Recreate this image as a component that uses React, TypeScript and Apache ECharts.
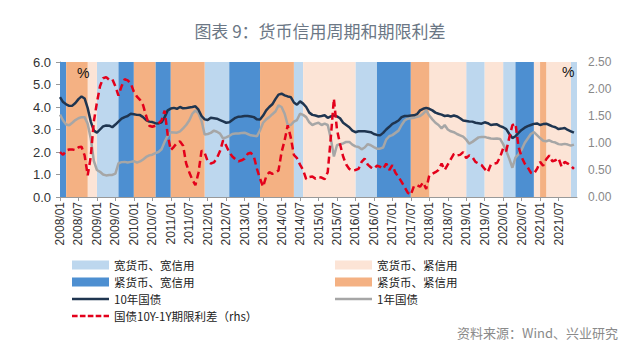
import React, { useEffect, useRef } from "react";
import * as echarts from "echarts";

// Monthly data, 2008/01 – 2021/12
const startYear = 2008;
const monthCount = 168;

const tenYear = [
  4.44, 4.22, 4.12, 4.05, 4.06, 4.18, 4.35, 4.47, 4.38, 3.95, 3.35, 2.95,
  2.86, 3.0, 3.14, 3.18, 3.17, 3.1, 3.22, 3.35, 3.48, 3.55, 3.6, 3.7,
  3.68, 3.65, 3.64, 3.55, 3.42, 3.35, 3.33, 3.28, 3.27, 3.32, 3.55, 3.85,
  3.93, 3.96, 3.92, 4.0, 3.94, 3.95, 3.98, 4.0, 4.03, 3.88, 3.6, 3.45,
  3.42, 3.52, 3.5, 3.48, 3.42, 3.36, 3.3, 3.32, 3.42, 3.52, 3.57, 3.58,
  3.6, 3.6, 3.58, 3.55, 3.45, 3.44, 3.62, 3.85, 4.0, 4.12, 4.35, 4.55,
  4.59, 4.52, 4.47, 4.44, 4.2, 4.1, 4.25, 4.15, 4.0, 3.75, 3.65, 3.62,
  3.58, 3.6, 3.63, 3.52, 3.58, 3.63, 3.58, 3.5, 3.3, 3.2, 3.1, 2.95,
  2.88, 2.92, 2.92, 2.92, 2.9, 2.88, 2.8, 2.76, 2.74, 2.85, 3.0, 3.12,
  3.25, 3.32, 3.4, 3.55, 3.6, 3.6, 3.62, 3.63, 3.68, 3.85, 3.92, 3.96,
  3.92, 3.85, 3.75, 3.7, 3.66, 3.6, 3.62, 3.58, 3.62, 3.58, 3.5, 3.4,
  3.38, 3.36, 3.35, 3.3, 3.28, 3.26, 3.32, 3.28, 3.2, 3.22, 3.23, 3.15,
  3.1, 3.02, 2.8, 2.62, 2.7, 2.85, 2.98, 3.08, 3.15, 3.2, 3.25, 3.27,
  3.2, 3.24, 3.26, 3.2, 3.14, 3.1, 3.02, 3.04, 3.07, 2.98, 2.92, 2.86,
];

const oneYear = [
  3.66, 3.4, 3.22, 3.19, 3.3, 3.42, 3.5, 3.55, 3.55, 3.25, 2.6, 1.6,
  1.2, 1.12, 1.0, 0.96, 0.98, 0.98, 1.04, 1.5, 1.55, 1.56, 1.53, 1.56,
  1.59, 1.53, 1.58, 1.67, 1.78, 1.85, 1.88, 1.95, 2.0, 2.12, 2.45, 2.72,
  2.88, 2.87, 2.86, 2.92, 3.05, 3.2, 3.4, 3.7, 3.85, 3.72, 3.38, 2.78,
  2.8, 2.85, 2.95, 2.9, 2.82, 2.6, 2.65, 2.72, 2.8, 2.82, 2.82, 2.84,
  2.86, 2.8, 2.74, 2.72, 2.7, 2.96, 3.3, 3.45, 3.55, 3.68, 3.8, 4.07,
  4.0, 3.7, 3.2, 3.2, 3.35, 3.42, 3.7, 3.65, 3.55, 3.32, 3.2, 3.26,
  3.3, 3.2, 3.26, 3.2, 2.6, 1.8, 2.3, 2.35, 2.38, 2.45, 2.45, 2.33,
  2.25, 2.22, 2.12, 2.2, 2.35, 2.3, 2.22, 2.15, 2.15, 2.2, 2.55, 2.7,
  2.75, 2.85, 2.95, 3.2, 3.4, 3.48, 3.5, 3.52, 3.56, 3.6, 3.7, 3.85,
  3.62, 3.45, 3.3, 3.2, 3.05, 3.2, 3.0, 2.92, 2.88, 2.8, 2.74, 2.68,
  2.55, 2.37, 2.45, 2.55, 2.65, 2.67, 2.67, 2.63, 2.6, 2.59, 2.6, 2.58,
  2.35, 2.05, 1.7, 1.3, 1.75, 1.9, 2.1, 2.4, 2.6, 2.8, 2.88, 2.75,
  2.62, 2.5, 2.48, 2.52, 2.45, 2.42, 2.35, 2.33, 2.36, 2.33, 2.28, 2.33,
];

const termSpread = [
  0.83, 0.78, 0.86, 0.88, 0.88, 0.87, 0.92, 0.93, 0.77, 0.4, 0.75, 1.4,
  1.75, 2.05, 2.2, 2.22, 2.17, 2.18, 2.05, 1.88, 2.05, 2.18, 2.16, 2.1,
  1.95, 1.86, 1.8, 1.7, 1.5, 1.32, 1.3, 1.32, 1.36, 1.42, 1.6, 1.15,
  0.87, 0.93, 1.0, 1.03, 0.95, 0.62, 0.46, 0.32, 0.22, 0.45, 0.86, 0.82,
  0.66, 0.62, 0.64, 0.72, 0.85, 1.05, 0.95, 0.83, 0.75, 0.7, 0.66, 0.68,
  0.71, 0.8, 0.82, 0.75, 0.52, 0.34, 0.19, 0.38, 0.46, 0.43, 0.46, 0.49,
  0.83, 1.05, 1.33, 1.1, 0.78, 0.72, 0.6, 0.5, 0.33, 0.37, 0.38, 0.34,
  0.37, 0.36, 0.33, 0.46, 1.1, 1.82, 1.25, 0.98, 0.75, 0.6, 0.52, 0.49,
  0.5, 0.52, 0.65, 0.71, 0.6, 0.55, 0.52, 0.58, 0.56, 0.52, 0.62, 0.5,
  0.59, 0.45, 0.37, 0.28, 0.18, 0.08, 0.04, 0.2, 0.22, 0.19, 0.27, 0.15,
  0.4, 0.43, 0.46, 0.5, 0.62, 0.5, 0.6, 0.7, 0.8, 0.77, 0.78, 0.83,
  0.72, 0.77, 0.74, 0.65, 0.62, 0.59, 0.52, 0.46, 0.6, 0.62, 0.63, 0.74,
  0.9, 0.85, 1.1, 1.33, 1.36, 0.93, 0.74, 0.62, 0.55, 0.45, 0.43, 0.52,
  0.65, 0.58, 0.7, 0.77, 0.66, 0.68, 0.72, 0.56, 0.65, 0.62, 0.58, 0.52,
];

// Regime periods [first month, last month] (inclusive)
const looseMoneyLooseCredit = [
  ["2009/01", "2009/07"], ["2011/12", "2012/07"], ["2014/05", "2014/07"],
  ["2016/01", "2016/07"], ["2019/01", "2019/06"], ["2020/01", "2020/04"],
  ["2021/11", "2021/12"],
];
const tightMoneyLooseCredit = [
  ["2008/01", "2008/02"], ["2009/08", "2009/12"], ["2010/08", "2010/12"],
  ["2012/08", "2013/05"], ["2016/08", "2017/06"], ["2020/05", "2020/10"],
];
const looseMoneyTightCredit = [
  ["2008/10", "2008/12"], ["2014/08", "2015/12"], ["2018/01", "2018/12"],
  ["2019/07", "2019/12"], ["2020/11", "2020/12"], ["2021/03", "2021/10"],
];
const tightMoneyTightCredit = [
  ["2008/03", "2008/09"], ["2010/01", "2010/07"], ["2011/01", "2011/11"],
  ["2013/06", "2014/04"], ["2017/07", "2017/12"], ["2021/01", "2021/02"],
];

const leftTicks = { min: 0, max: 6, interval: 1 };
const rightTicks = { min: 0, max: 2.5, interval: 0.5 };

const NAME_LL = "宽货币、宽信用";
const NAME_TL = "紧货币、宽信用";
const NAME_LT = "宽货币、紧信用";
const NAME_TT = "紧货币、紧信用";
const NAME_10Y = "10年国债";
const NAME_1Y = "1年国债";
const NAME_SP = "国债10Y-1Y期限利差（rhs）";

const COLOR_LL = "#bdd7ee";
const COLOR_TL = "#4d8fd1";
const COLOR_LT = "#fce4d6";
const COLOR_TT = "#f4b183";

const SOLID_ICON = "path://M0,0 L37,0 L37,2.6 L0,2.6 Z";
const DASH_ICON =
  "path://M0,0 L5.6,0 L5.6,2.6 L0,2.6 Z M7.9,0 L13.5,0 L13.5,2.6 L7.9,2.6 Z M15.8,0 L21.4,0 L21.4,2.6 L15.8,2.6 Z M23.7,0 L29.3,0 L29.3,2.6 L23.7,2.6 Z M31.6,0 L37,0 L37,2.6 L31.6,2.6 Z";

function monthLabel(i: number) {
  const y = startYear + Math.floor(i / 12);
  const m = (i % 12) + 1;
  return `${y}/${m < 10 ? "0" + m : m}`;
}
function monthIndex(label: string) {
  const [y, m] = label.split("/").map(Number);
  return (y - startYear) * 12 + (m - 1);
}

function bandSeries(name: string, color: string, periods: string[][]) {
  return {
    name,
    type: "line",
    data: [],
    color,
    silent: true,
    z: 1,
    markArea: {
      silent: true,
      z: 1,
      itemStyle: { color, opacity: 1, borderWidth: 0 },
      data: periods.map(([a, b]) => [
        { xAxis: monthIndex(a) },
        { xAxis: monthIndex(b) + 1 },
      ]),
    },
  };
}

export default function App() {
  const ref = useRef<HTMLDivElement>(null);

  useEffect(() => {
    if (!ref.current) return;
    const chart = echarts.init(ref.current, null, { renderer: "svg" });
    const pairs = (arr: number[]) => arr.map((v, i) => [i, v]);
    const legendText = {
      fontFamily: "'Noto Sans CJK SC', sans-serif",
      fontSize: 11.5,
      lineHeight: 14,
      color: "#222",
    };
    const noBorder = { borderWidth: 0 };
    chart.setOption({
      animation: false,
      backgroundColor: "#ffffff",
      title: {
        text: "图表 9：货币信用周期和期限利差",
        left: "center",
        top: 17,
        textStyle: {
          fontFamily: "'Noto Sans CJK SC', sans-serif",
          fontSize: 17,
          fontWeight: "normal",
          color: "#6b7785",
        },
      },
      grid: { left: 60, right: 63, top: 62, bottom: 161, containLabel: false },
      xAxis: {
        type: "value",
        min: 0,
        max: monthCount,
        interval: 6,
        axisLine: { show: true, lineStyle: { color: "#999" } },
        axisTick: { show: true, length: 4, lineStyle: { color: "#999" } },
        splitLine: { show: false },
        axisLabel: {
          rotate: 90,
          fontSize: 12,
          fontFamily: "'Liberation Sans', Arial, sans-serif",
          color: "#333",
          margin: 5,
          showMaxLabel: false,
          formatter: (v: number) => (v < monthCount ? monthLabel(v) : ""),
        },
      },
      yAxis: [
        {
          type: "value",
          ...leftTicks,
          axisLine: { show: true, lineStyle: { color: "#999" } },
          axisTick: { show: true, length: 4, lineStyle: { color: "#999" } },
          splitLine: { show: false },
          axisLabel: {
            fontSize: 13,
            fontFamily: "'Liberation Sans', Arial, sans-serif",
            color: "#333",
            margin: 9,
            formatter: (v: number) => v.toFixed(1),
          },
        },
        {
          type: "value",
          ...rightTicks,
          position: "right",
          axisLine: { show: false },
          axisTick: { show: false },
          splitLine: { show: false },
          axisLabel: {
            fontSize: 12,
            fontFamily: "'Liberation Sans', Arial, sans-serif",
            color: "#888",
            margin: 11,
            formatter: (v: number) => v.toFixed(2),
          },
        },
      ],
      legend: [
        {
          orient: "vertical",
          left: 67,
          top: 253,
          itemWidth: 37,
          itemGap: 3,
          itemHeight: 9,
          textStyle: legendText,
          selectedMode: false,
          data: [
            { name: NAME_LL, icon: "rect" },
            { name: NAME_TL, icon: "rect" },
            { name: NAME_10Y, icon: SOLID_ICON, itemStyle: noBorder },
            { name: NAME_SP, icon: DASH_ICON, itemStyle: noBorder },
          ],
        },
        {
          orient: "vertical",
          left: 330,
          top: 253,
          itemWidth: 37,
          itemGap: 3,
          itemHeight: 9,
          textStyle: legendText,
          selectedMode: false,
          data: [
            { name: NAME_LT, icon: "rect" },
            { name: NAME_TT, icon: "rect" },
            { name: NAME_1Y, icon: SOLID_ICON, itemStyle: noBorder },
          ],
        },
      ],
      graphic: [
        {
          type: "text",
          left: 77,
          top: 66,
          style: { text: "%", fontSize: 14, fill: "#111", fontFamily: "'Liberation Sans', Arial, sans-serif" },
          z: 10,
        },
        {
          type: "text",
          left: 562,
          top: 65,
          style: { text: "%", fontSize: 14, fill: "#111", fontFamily: "'Liberation Sans', Arial, sans-serif" },
          z: 10,
        },
        {
          type: "text",
          right: 22,
          top: 326,
          style: {
            text: "资料来源：Wind、兴业研究",
            fontSize: 13,
            fill: "#8a8a8a",
            fontFamily: "'Noto Sans CJK SC', sans-serif",
          },
        },
      ],
      series: [
        bandSeries(NAME_LL, COLOR_LL, looseMoneyLooseCredit),
        bandSeries(NAME_TL, COLOR_TL, tightMoneyLooseCredit),
        bandSeries(NAME_LT, COLOR_LT, looseMoneyTightCredit),
        bandSeries(NAME_TT, COLOR_TT, tightMoneyTightCredit),
        {
          name: NAME_10Y,
          type: "line",
          data: pairs(tenYear),
          symbol: "none",
          z: 5,
          color: "#1f3550",
          lineStyle: { width: 2.5, color: "#1f3550" },
          silent: true,
        },
        {
          name: NAME_1Y,
          type: "line",
          data: pairs(oneYear),
          symbol: "none",
          z: 4,
          color: "#a6a6a6",
          lineStyle: { width: 2.5, color: "#a6a6a6" },
          silent: true,
        },
        {
          name: NAME_SP,
          type: "line",
          yAxisIndex: 1,
          data: pairs(termSpread),
          symbol: "none",
          z: 6,
          color: "#e3001b",
          lineStyle: { width: 2.5, color: "#e3001b", type: [7, 4] },
          silent: true,
        },
      ],
    });
    return () => chart.dispose();
  }, []);

  return (
    <div
      ref={ref}
      style={{ position: "fixed", left: 0, top: 0, width: 640, height: 358 }}
    />
  );
}
